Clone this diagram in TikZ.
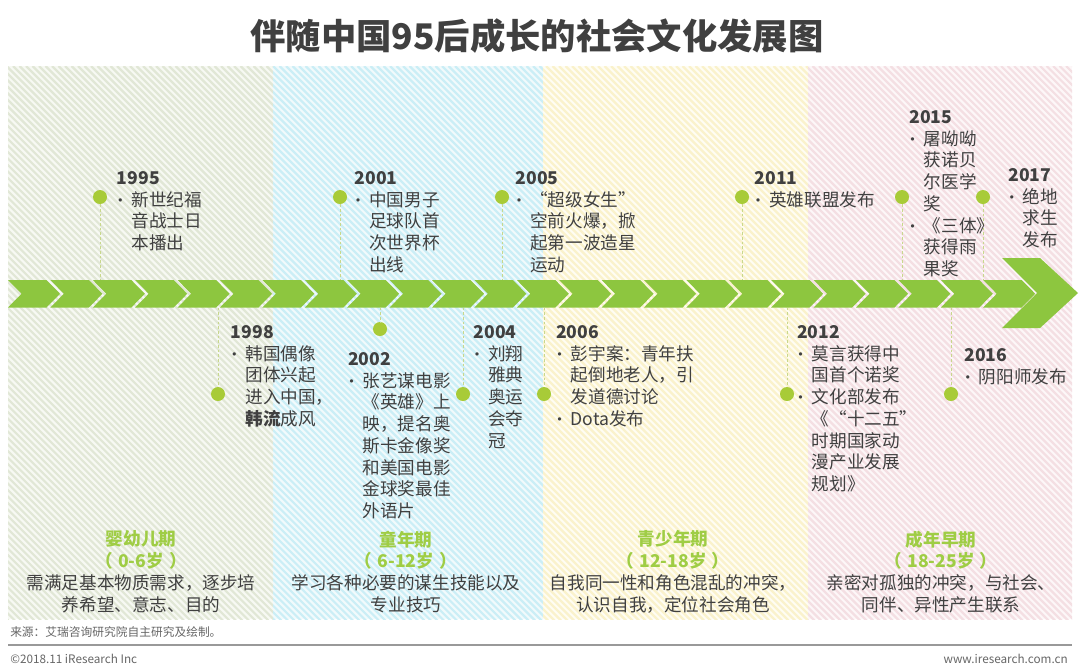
\documentclass[tikz,border=0pt]{standalone}
\usepackage{fontspec}
\setmainfont{Noto Sans CJK SC}
\usepackage{array}
\definecolor{band}{HTML}{8DC63F}
\definecolor{dotc}{HTML}{A8CB38}
\definecolor{txt}{HTML}{404040}
\definecolor{phg}{HTML}{9FCD45}
\definecolor{conncol}{HTML}{C8D88C}
\definecolor{bgA}{HTML}{F7F9F3}\definecolor{stA}{HTML}{E1E7D6}
\definecolor{bgB}{HTML}{F1FAFC}\definecolor{stB}{HTML}{CBEEF6}
\definecolor{bgC}{HTML}{FFFDF3}\definecolor{stC}{HTML}{FAF2CC}
\definecolor{bgD}{HTML}{FDF7F8}\definecolor{stD}{HTML}{F4DFE3}
\definecolor{footc}{HTML}{666666}
\newcommand\bul{\leavevmode\rlap{\fontsize{12}{12}\selectfont\hspace{-3.4pt}•}}
\newcommand\agesp{\hspace{0.3em}}
\begin{document}
\begin{tikzpicture}[x=0.75pt,y=-0.75pt,
  dot/.style={circle,fill=dotc,inner sep=0pt,minimum size=10.5pt},
  conn/.style={draw=conncol,line width=0.6pt,dash pattern=on 2pt off 1.5pt},
  evt/.style={anchor=north west,inner sep=0pt,text=txt,font=\fontsize{13.2}{16.3}\selectfont},
  phase/.style={anchor=north,inner sep=0pt,text=txt,font=\fontsize{13.2}{16.3}\selectfont},
  foot/.style={inner sep=0pt,text=footc,font=\fontsize{8.8}{10}\selectfont},
  chev/.style={fill=band}]
\useasboundingbox (0,0) rectangle (1080,669);
\fill[white] (0,0) rectangle (1080,669);
% striped panels
\begin{scope}
\clip (8,66) rectangle (273,619);
\fill[bgA] (8,66) rectangle (273,619);
\foreach \a in {-546,-539.5,...,274} \draw[stA,line width=1.6pt] (\a,66) -- ++(560,560);
\end{scope}
\begin{scope}
\clip (273,66) rectangle (543,619);
\fill[bgB] (273,66) rectangle (543,619);
\foreach \a in {-286,-279.5,...,546} \draw[stB,line width=1.6pt] (\a,66) -- ++(560,560);
\end{scope}
\begin{scope}
\clip (543,66) rectangle (808,619);
\fill[bgC] (543,66) rectangle (808,619);
\foreach \a in {-13,-6.5,...,812} \draw[stC,line width=1.6pt] (\a,66) -- ++(560,560);
\end{scope}
\begin{scope}
\clip (808,66) rectangle (1072,619);
\fill[bgD] (808,66) rectangle (1072,619);
\foreach \a in {253.5,260,...,1073} \draw[stD,line width=1.6pt] (\a,66) -- ++(560,560);
\end{scope}
% title
\node[inner sep=0pt,text=txt,font=\fontsize{26.5}{30}\selectfont\bfseries] (title) at (537,36) {伴随中国95后成长的社会文化发展图};
% chevron band
\foreach \i in {0,...,23} {
  \pgfmathsetmacro\xo{8+42.4*\i}
  \fill[chev] (\xo,280) -- ++(38.5,0) -- ++(13.5,13.75) -- ++(-13.5,13.75) -- ++(-38.5,0) -- ++(13.5,-13.75) -- cycle;
}
\fill[chev] (1002,258) -- (1040,258) -- (1078,293) -- (1040,328) -- (1002,328) -- (1037,293) -- cycle;
% upper events
\foreach \n/\x in {1995/100,2001/340,2005/502,2011/742,2015/902,2017/983} {
  \coordinate (b\n) at (\x,280);
  \node[dot] (c\n) at (\x,197) {};
  \draw[conn] (c\n) -- (b\n);
}
% lower events
\foreach \n/\x/\y in {1998/218/394,2002/380/329,2004/463/394,2006/544/394,2012/787/394,2016/951/394} {
  \coordinate (b\n) at (\x,307.5);
  \node[dot] (c\n) at (\x,\y) {};
  \draw[conn] (b\n) -- (c\n);
}
% event texts
\node[evt] (t1995) at (116.7,169) {\begin{tabular}{@{}p{10.9pt}@{}l@{}}\multicolumn{2}{@{}l@{}}{\textbf{1995}}\\ \bul & 新世纪福\\ & 音战士日\\ & 本播出\end{tabular}};
\node[evt] (t2001) at (354.5,169) {\begin{tabular}{@{}p{10.9pt}@{}l@{}}\multicolumn{2}{@{}l@{}}{\textbf{2001}}\\ \bul & 中国男子\\ & 足球队首\\ & 次世界杯\\ & 出线\end{tabular}};
\node[evt] (t2005) at (515.5,169) {\begin{tabular}{@{}p{10.9pt}@{}l@{}}\multicolumn{2}{@{}l@{}}{\textbf{2005}}\\ \bul & “超级女生”\\ & 空前火爆，掀\\ & 起第一波造星\\ & 运动\end{tabular}};
\node[evt] (t2011) at (754.5,169) {\begin{tabular}{@{}p{10.9pt}@{}l@{}}\multicolumn{2}{@{}l@{}}{\textbf{2011}}\\ \bul & 英雄联盟发布\end{tabular}};
\node[evt] (t2015) at (909,108) {\begin{tabular}{@{}p{10.9pt}@{}l@{}}\multicolumn{2}{@{}l@{}}{\textbf{2015}}\\ \bul & 屠呦呦\\ & 获诺贝\\ & 尔医学\\ & 奖\\ \bul & 《三体》\\ & 获得雨\\ & 果奖\end{tabular}};
\node[evt] (t2017) at (1008,166) {\begin{tabular}{@{}p{10.9pt}@{}l@{}}\multicolumn{2}{@{}l@{}}{\textbf{2017}}\\ \bul & 绝地\\ & 求生\\ & 发布\end{tabular}};
\node[evt] (t1998) at (230.7,323) {\begin{tabular}{@{}p{10.9pt}@{}l@{}}\multicolumn{2}{@{}l@{}}{\textbf{1998}}\\ \bul & 韩国偶像\\ & 团体兴起\\ & 进入中国，\\ & \textbf{韩流}成风\end{tabular}};
\node[evt] (t2002) at (347.8,350) {\begin{tabular}{@{}p{10.9pt}@{}l@{}}\multicolumn{2}{@{}l@{}}{\textbf{2002}}\\ \bul & 张艺谋电影\\ & 《英雄》上\\ & 映，提名奥\\ & 斯卡金像奖\\ & 和美国电影\\ & 金球奖最佳\\ & 外语片\end{tabular}};
\node[evt] (t2004) at (473.5,323) {\begin{tabular}{@{}p{10.9pt}@{}l@{}}\multicolumn{2}{@{}l@{}}{\textbf{2004}}\\ \bul & 刘翔\\ & 雅典\\ & 奥运\\ & 会夺\\ & 冠\end{tabular}};
\node[evt] (t2006) at (556,323) {\begin{tabular}{@{}p{10.9pt}@{}l@{}}\multicolumn{2}{@{}l@{}}{\textbf{2006}}\\ \bul & 彭宇案：青年扶\\ & 起倒地老人，引\\ & 发道德讨论\\ \bul & Dota发布\end{tabular}};
\node[evt] (t2012) at (797,323) {\begin{tabular}{@{}p{10.9pt}@{}l@{}}\multicolumn{2}{@{}l@{}}{\textbf{2012}}\\ \bul & 莫言获得中\\ & 国首个诺奖\\ \bul & 文化部发布\\ & 《“十二五”\\ & 时期国家动\\ & 漫产业发展\\ & 规划》\end{tabular}};
\node[evt] (t2016) at (964,346) {\begin{tabular}{@{}p{10.9pt}@{}l@{}}\multicolumn{2}{@{}l@{}}{\textbf{2016}}\\ \bul & 阴阳师发布\end{tabular}};
% phases
\node[phase] (p1) at (141,530.5) {\begin{tabular}{@{}c@{}}\textcolor{phg}{\textbf{婴幼儿期}}\\ \textcolor{phg}{\textbf{（\agesp 0-6岁\agesp）}}\\ 需满足基本物质需求，逐步培\\ 养希望、意志、目的\end{tabular}};
\node[phase] (p2) at (406,530.5) {\begin{tabular}{@{}c@{}}\textcolor{phg}{\textbf{童年期}}\\ \textcolor{phg}{\textbf{（\agesp 6-12岁\agesp）}}\\ 学习各种必要的谋生技能以及\\ 专业技巧\end{tabular}};
\node[phase] (p3) at (673,530.5) {\begin{tabular}{@{}c@{}}\textcolor{phg}{\textbf{青少年期}}\\ \textcolor{phg}{\textbf{（\agesp 12-18岁\agesp）}}\\ 自我同一性和角色混乱的冲突，\\ 认识自我，定位社会角色\end{tabular}};
\node[phase] (p4) at (941,530.5) {\begin{tabular}{@{}c@{}}\textcolor{phg}{\textbf{成年早期}}\\ \textcolor{phg}{\textbf{（\agesp 18-25岁\agesp）}}\\ 亲密对孤独的冲突，与社会、\\ 同伴、异性产生联系\end{tabular}};
% footer
\node[foot,anchor=west] (src) at (10,632) {来源：艾瑞咨询研究院自主研究及绘制。};
\coordinate (fl) at (8,645);
\coordinate (fr) at (1072,645);
\draw[draw=gray!80,line width=1.1pt] (fl) -- (fr);
\node[foot,anchor=west] (copy) at (10,659) {©2018.11 iResearch Inc};
\node[foot,anchor=east] (www) at (1068,659) {www.iresearch.com.cn};
\end{tikzpicture}
\end{document}
